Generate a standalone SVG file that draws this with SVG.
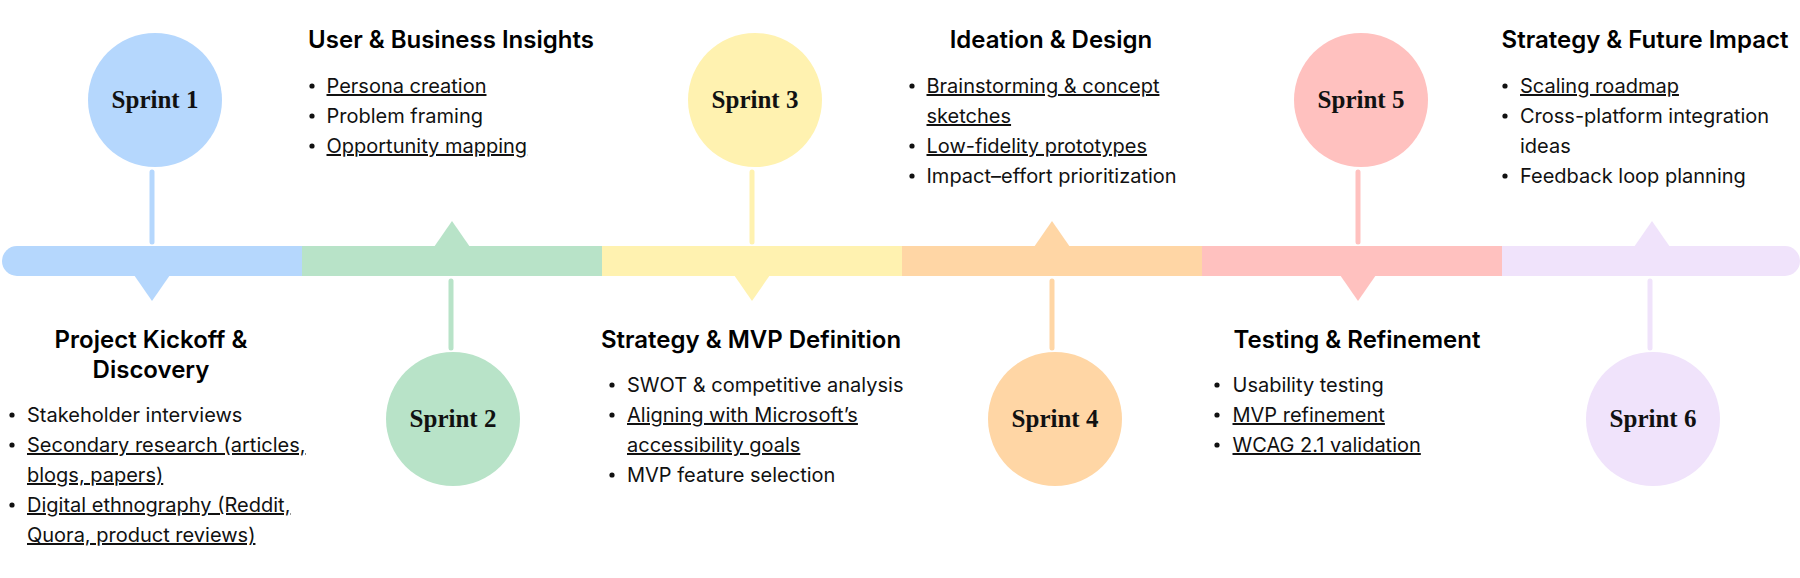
<svg xmlns="http://www.w3.org/2000/svg" width="1800" height="578" viewBox="0 0 1800 578">
<style>
.lbl{font-family:"Liberation Serif","Times New Roman",serif;font-weight:700;font-size:25px;fill:#111;text-anchor:middle}
.ttl{font-family:Inter,"Liberation Sans",Arial,sans-serif;font-weight:600;font-size:24px;fill:#000;text-anchor:middle}
.itm{font-family:Inter,"Liberation Sans",Arial,sans-serif;font-weight:400;font-size:20px;fill:#111}
.u{text-decoration:underline}
.dot{fill:#111}
.stem{stroke-width:5;stroke-linecap:round;fill:none}
.c1{fill:#B5D7FD}.s1{stroke:#B5D7FD}
.c2{fill:#B8E3C8}.s2{stroke:#B8E3C8}
.c3{fill:#FFF2B0}.s3{stroke:#FFF2B0}
.c4{fill:#FFD6A5}.s4{stroke:#FFD6A5}
.c5{fill:#FFC1BF}.s5{stroke:#FFC1BF}
.c6{fill:#F0E3FB}.s6{stroke:#F0E3FB}
</style>
<rect width="1800" height="578" fill="#fff"/>
<g id="timeline">
<rect class="c1" x="2" y="246" width="60" height="30" rx="15"/>
<rect class="c1" x="20" y="246" width="282" height="30"/>
<rect class="c2" x="302" y="246" width="300" height="30"/>
<rect class="c3" x="602" y="246" width="300" height="30"/>
<rect class="c4" x="902" y="246" width="300" height="30"/>
<rect class="c5" x="1202" y="246" width="300" height="30"/>
<rect class="c6" x="1502" y="246" width="280" height="30"/>
<rect class="c6" x="1740" y="246" width="60" height="30" rx="15"/>
<polygon class="c1" points="134,275 152,301 170,275"/>
<polygon class="c2" points="434,247 452,221 470,247"/>
<polygon class="c3" points="734,275 752,301 770,275"/>
<polygon class="c4" points="1034,247 1052,221 1070,247"/>
<polygon class="c5" points="1340,275 1358,301 1376,275"/>
<polygon class="c6" points="1634,247 1652,221 1670,247"/>
</g>
<g id="connectors">
<line class="stem s1" x1="152" y1="172" x2="152" y2="242"/>
<line class="stem s2" x1="451" y1="281" x2="451" y2="348"/>
<line class="stem s3" x1="752" y1="172" x2="752" y2="242"/>
<line class="stem s4" x1="1052" y1="281" x2="1052" y2="348"/>
<line class="stem s5" x1="1358" y1="172" x2="1358" y2="242"/>
<line class="stem s6" x1="1650" y1="281" x2="1650" y2="348"/>
</g>
<g id="sprint1">
<circle class="c1" cx="155" cy="100" r="67"/>
<text class="lbl" x="155" y="108">Sprint 1</text>
<text class="ttl" x="151" y="348">Project Kickoff &amp;</text>
<text class="ttl" x="151" y="378">Discovery</text>
<circle class="dot" cx="12" cy="415" r="2.6"/>
<text class="itm" x="27" y="422">Stakeholder interviews</text>
<circle class="dot" cx="12" cy="445" r="2.6"/>
<text class="itm u" x="27" y="452">Secondary research (articles,</text>
<text class="itm u" x="27" y="482">blogs, papers)</text>
<circle class="dot" cx="12" cy="505" r="2.6"/>
<text class="itm u" x="27" y="512">Digital ethnography (Reddit,</text>
<text class="itm u" x="27" y="542">Quora, product reviews)</text>
</g>
<g id="sprint2">
<circle class="c2" cx="453" cy="419" r="67"/>
<text class="lbl" x="453" y="427">Sprint 2</text>
<text class="ttl" x="451" y="48">User &amp; Business Insights</text>
<circle class="dot" cx="312" cy="86" r="2.6"/>
<text class="itm u" x="326.5" y="93">Persona creation</text>
<circle class="dot" cx="312" cy="116" r="2.6"/>
<text class="itm" x="326.5" y="123">Problem framing</text>
<circle class="dot" cx="312" cy="146" r="2.6"/>
<text class="itm u" x="326.5" y="153">Opportunity mapping</text>
</g>
<g id="sprint3">
<circle class="c3" cx="755" cy="100" r="67"/>
<text class="lbl" x="755" y="108">Sprint 3</text>
<text class="ttl" x="751" y="348">Strategy &amp; MVP Definition</text>
<circle class="dot" cx="612" cy="385" r="2.6"/>
<text class="itm" x="627" y="392">SWOT &amp; competitive analysis</text>
<circle class="dot" cx="612" cy="415" r="2.6"/>
<text class="itm u" x="627" y="422">Aligning with Microsoft’s</text>
<text class="itm u" x="627" y="452">accessibility goals</text>
<circle class="dot" cx="612" cy="475" r="2.6"/>
<text class="itm" x="627" y="482">MVP feature selection</text>
</g>
<g id="sprint4">
<circle class="c4" cx="1055" cy="419" r="67"/>
<text class="lbl" x="1055" y="427">Sprint 4</text>
<text class="ttl" x="1051" y="48">Ideation &amp; Design</text>
<circle class="dot" cx="912" cy="86" r="2.6"/>
<text class="itm u" x="926.5" y="93">Brainstorming &amp; concept</text>
<text class="itm u" x="926.5" y="123">sketches</text>
<circle class="dot" cx="912" cy="146" r="2.6"/>
<text class="itm u" x="926.5" y="153">Low-fidelity prototypes</text>
<circle class="dot" cx="912" cy="176" r="2.6"/>
<text class="itm" x="926.5" y="183">Impact–effort prioritization</text>
</g>
<g id="sprint5">
<circle class="c5" cx="1361" cy="100" r="67"/>
<text class="lbl" x="1361" y="108">Sprint 5</text>
<text class="ttl" x="1357" y="348">Testing &amp; Refinement</text>
<circle class="dot" cx="1217" cy="385" r="2.6"/>
<text class="itm" x="1232.5" y="392">Usability testing</text>
<circle class="dot" cx="1217" cy="415" r="2.6"/>
<text class="itm u" x="1232.5" y="422">MVP refinement</text>
<circle class="dot" cx="1217" cy="445" r="2.6"/>
<text class="itm u" x="1232.5" y="452">WCAG 2.1 validation</text>
</g>
<g id="sprint6">
<circle class="c6" cx="1653" cy="419" r="67"/>
<text class="lbl" x="1653" y="427">Sprint 6</text>
<text class="ttl" x="1645" y="48">Strategy &amp; Future Impact</text>
<circle class="dot" cx="1505" cy="86" r="2.6"/>
<text class="itm u" x="1520" y="93">Scaling roadmap</text>
<circle class="dot" cx="1505" cy="116" r="2.6"/>
<text class="itm" x="1520" y="123">Cross-platform integration</text>
<text class="itm" x="1520" y="153">ideas</text>
<circle class="dot" cx="1505" cy="176" r="2.6"/>
<text class="itm" x="1520" y="183">Feedback loop planning</text>
</g>
</svg>
